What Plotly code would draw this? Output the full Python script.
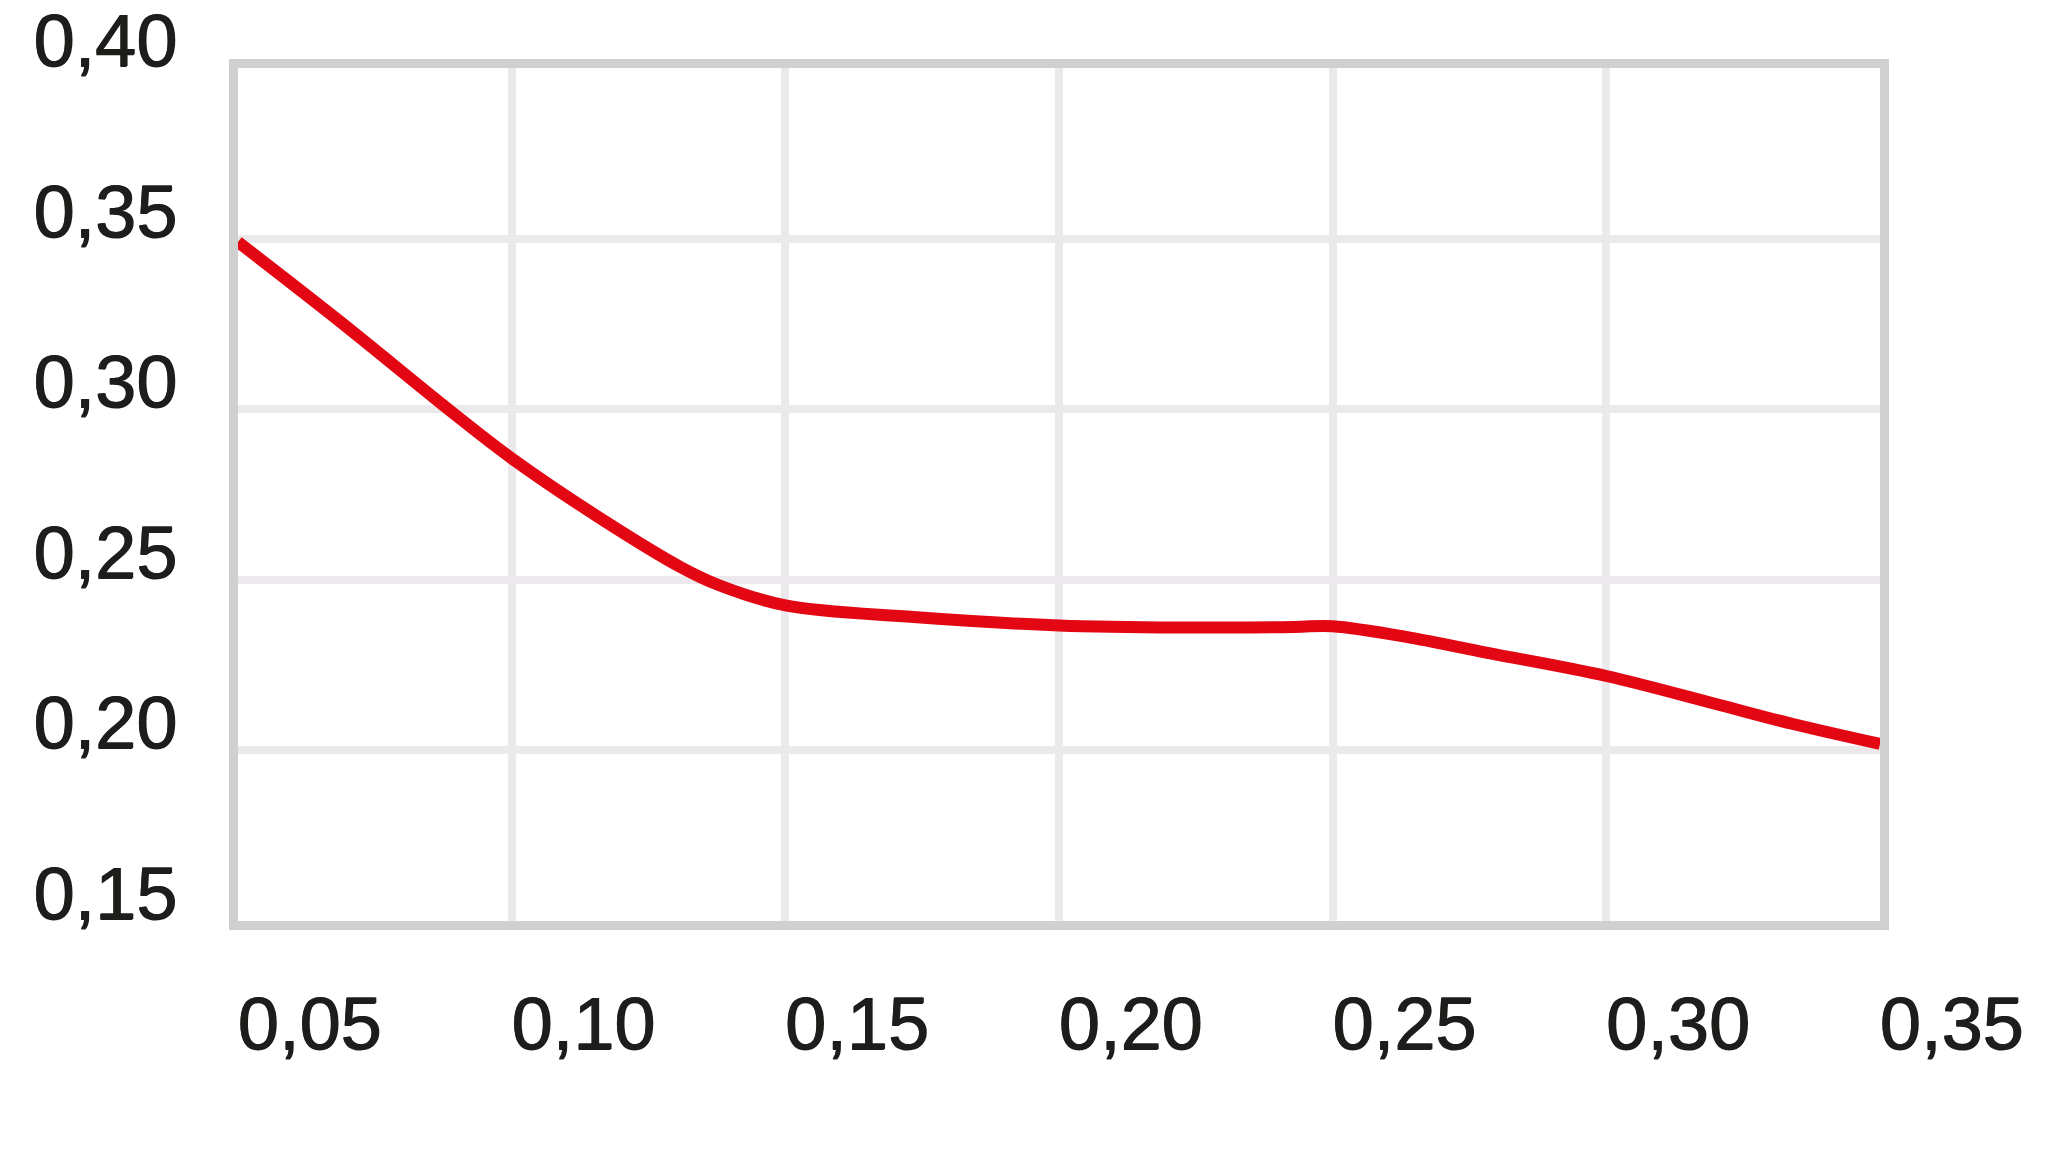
import plotly.graph_objects as go

# values
x_vals = [0.05, 0.0684, 0.0892, 0.10, 0.117, 0.1309, 0.1379, 0.15,
          0.1734, 0.20, 0.222, 0.243, 0.25, 0.2644, 0.2783, 0.30, 0.32, 0.3339, 0.35]
y_vals = [0.349, 0.326, 0.299, 0.2856, 0.2672, 0.2537, 0.2484, 0.2425,
          0.2391, 0.2366, 0.2360, 0.2362, 0.2364, 0.2330, 0.2286, 0.2218, 0.2136, 0.2078, 0.2019]

x_ticks = [0.05, 0.10, 0.15, 0.20, 0.25, 0.30, 0.35]
x_tick_labels = ["0,05", "0,10", "0,15", "0,20", "0,25", "0,30", "0,35"]
y_ticks = [0.15, 0.20, 0.25, 0.30, 0.35, 0.40]
y_tick_labels = ["0,15", "0,20", "0,25", "0,30", "0,35", "0,40"]

fig = go.Figure()
fig.add_trace(
    go.Scatter(
        x=x_vals,
        y=y_vals,
        mode="lines",
        line=dict(color="#e30613", width=12, shape="spline", smoothing=1.0),
        showlegend=False,
        hoverinfo="skip",
    )
)

# a thin shadow thickens the regular weight a bit, closer to the original type
axis_font = dict(
    family="Liberation Sans, Arial, sans-serif",
    size=74,
    color="#1d1d1b",
    shadow="1px 0px 0px #1d1d1b, 0px 1px 0px #1d1d1b",
)
grid = dict(
    ticks="",
    showgrid=True,
    gridcolor="#ebe9eb",
    gridwidth=8,
    showline=True,
    linecolor="#d1d0d1",
    linewidth=9,
    mirror=True,
    zeroline=False,
    tickfont=axis_font,
    ticklabeloverflow="allow",
)

fig.update_xaxes(
    range=[0.05, 0.35],
    tickvals=x_ticks,
    ticktext=x_tick_labels,
    ticklabelposition="outside right",
    ticklabelshift=-5,
    ticklabelstandoff=30,
    **grid,
)
# labels sit just above their gridlines
fig.update_yaxes(
    range=[0.15, 0.40],
    tickvals=y_ticks,
    ticktext=y_tick_labels,
    ticklabelposition="outside",
    ticklabelshift=-28,
    ticklabelstandoff=37,
    **grid,
)

fig.update_layout(
    width=2048,
    height=1150,
    margin=dict(l=230, r=176, t=60, b=237, autoexpand=False),
    paper_bgcolor="white",
    plot_bgcolor="white",
)

fig.write_html("out.html")
